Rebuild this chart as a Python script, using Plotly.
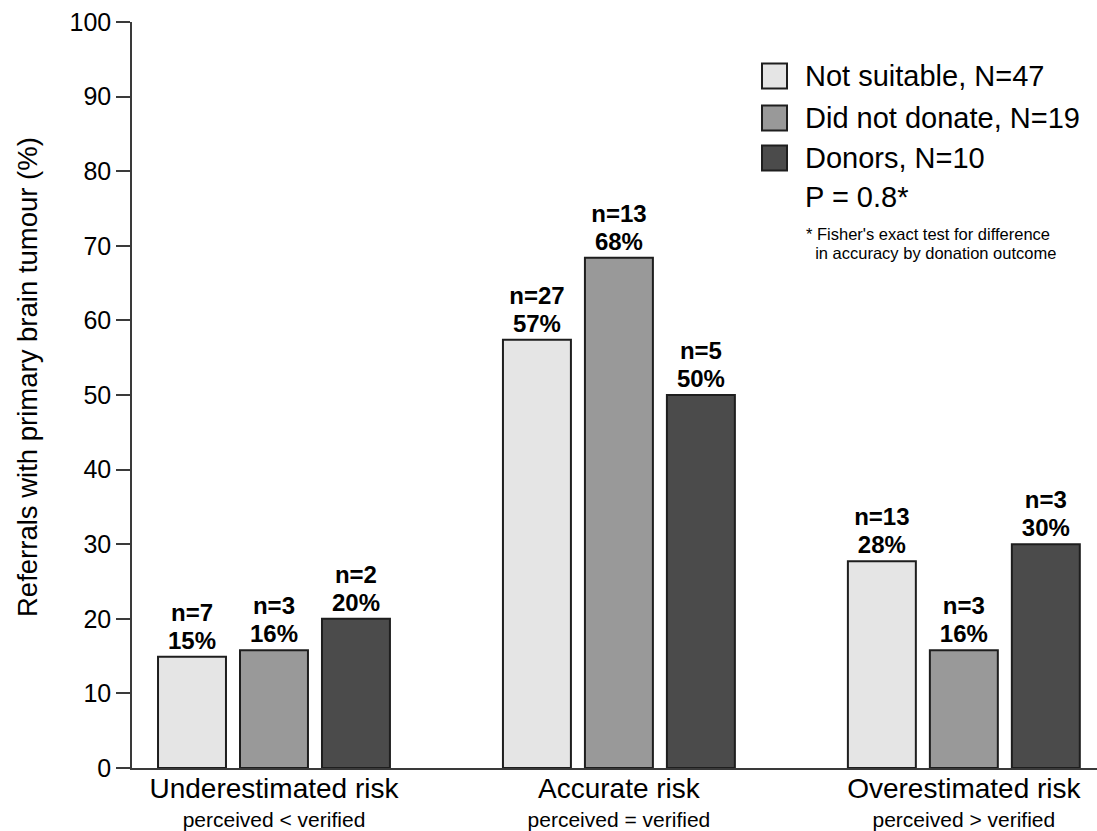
import plotly.graph_objects as go

# Risk-perception categories shown on the x axis
categories = ["Underestimated risk", "Accurate risk", "Overestimated risk"]
subtitles = ["perceived &lt; verified", "perceived = verified", "perceived &gt; verified"]

# Donation-outcome groups
series_names = ["Not suitable, N=47", "Did not donate, N=19", "Donors, N=10"]

# Percent of referrals in each group
pct_not_suitable = [14.9, 57.4, 27.7]
pct_did_not_donate = [15.8, 68.4, 15.8]
pct_donors = [20.0, 50.0, 30.0]

# Counts behind each percentage
n_not_suitable = [7, 27, 13]
n_did_not_donate = [3, 13, 3]
n_donors = [2, 5, 3]

p_value_text = "P = 0.8*"
footnote_lines = ["* Fisher's exact test for difference", "\u00a0\u00a0in accuracy by donation outcome"]
y_title = "Referrals with primary brain tumour (%)"

y_ticks = list(range(0, 101, 10))

fill_colors = ["#e5e5e5", "#999999", "#4b4b4b"]
outline = "#1e1e1e"
axis_color = "#3a3a3a"
font_family = "Liberation Sans, Arial, sans-serif"

# Two-line category labels: large name, smaller description underneath.
# The base tick font sets the line spacing; the spans set the glyph sizes.
tick_labels = [f"<span style='font-size:28px'>{c}</span><br><span style='font-size:21px'>{s}</span>"
               for c, s in zip(categories, subtitles)]


def bar_label(n, p):
    # a smaller base size keeps the two lines close together
    return (f"<span style='font-size:24px'><b>n={n}</b></span><br>"
            f"<span style='font-size:24px'><b>{round(p)}%</b></span>")


fig = go.Figure()
for name, pcts, counts, color in zip(
    series_names,
    [pct_not_suitable, pct_did_not_donate, pct_donors],
    [n_not_suitable, n_did_not_donate, n_donors],
    fill_colors,
):
    fig.add_trace(go.Bar(
        x=tick_labels,
        y=pcts,
        name=name,
        marker=dict(color=color, line=dict(color=outline, width=2)),
        text=[bar_label(n, p) for n, p in zip(counts, pcts)],
        textposition="outside",
        textfont=dict(family=font_family, size=21.5, color="#000000"),
        constraintext="none",
        cliponaxis=False,
        showlegend=False,
    ))

# Hand-drawn key in the upper right of the plot area
plot_l, plot_r, plot_t, plot_b = 132, 1097, 22, 768
pw, ph = plot_r - plot_l, plot_b - plot_t


def px_x(v):
    return (v - plot_l) / pw


def px_y(v):
    return (plot_b - v) / ph


row_centers = [76, 118, 158]
shapes = []
annotations = []
for name, color, yc in zip(series_names, fill_colors, row_centers):
    shapes.append(dict(
        type="rect", xref="paper", yref="paper",
        x0=px_x(762), x1=px_x(787), y0=px_y(yc + 12.5), y1=px_y(yc - 12.5),
        fillcolor=color, line=dict(color=outline, width=2),
    ))
    annotations.append(dict(
        xref="paper", yref="paper", x=px_x(803), y=px_y(yc),
        xanchor="left", yanchor="middle", showarrow=False,
        text=name, font=dict(family=font_family, size=29, color="#000000"),
    ))

annotations.append(dict(
    xref="paper", yref="paper", x=px_x(803), y=px_y(197),
    xanchor="left", yanchor="middle", showarrow=False,
    text=p_value_text, font=dict(family=font_family, size=29, color="#000000"),
))

# Footnote: one text block, base size sets the line spacing
annotations.append(dict(
    xref="paper", yref="paper", x=px_x(804), y=px_y(244),
    xanchor="left", yanchor="middle", showarrow=False, align="left",
    text="<br>".join(f"<span style='font-size:16.5px'>{t}</span>" for t in footnote_lines),
    font=dict(family=font_family, size=14.7, color="#000000"),
))

# Rotated y-axis title
annotations.append(dict(
    xref="paper", yref="paper", x=px_x(27), y=px_y(377),
    xanchor="center", yanchor="middle", showarrow=False, textangle=-90,
    text=y_title, font=dict(family=font_family, size=27.5, color="#000000"),
))

fig.update_layout(
    width=1097, height=831,
    margin=dict(l=plot_l, r=1097 - plot_r, t=plot_t, b=831 - plot_b),
    paper_bgcolor="#ffffff", plot_bgcolor="#ffffff",
    barmode="group", bargap=0.287, bargroupgap=0.171,
    font=dict(family=font_family, color="#000000"),
    shapes=shapes, annotations=annotations,
    xaxis=dict(
        showline=True, linecolor=axis_color, linewidth=1.5,
        ticks="", showgrid=False, zeroline=False, automargin=False,
        tickfont=dict(size=22.5, color="#000000"),
        ticklabelstandoff=1,
        range=[-0.4116, 2.386],
    ),
    yaxis=dict(
        range=[0, 100], tickvals=y_ticks, showline=True, automargin=False,
        linecolor=axis_color, linewidth=1.5, ticks="outside", ticklen=14,
        tickcolor=axis_color, tickwidth=1.5, showgrid=False, zeroline=False,
        tickfont=dict(size=25, color="#000000"),
    ),
)

fig.write_html("out.html")
